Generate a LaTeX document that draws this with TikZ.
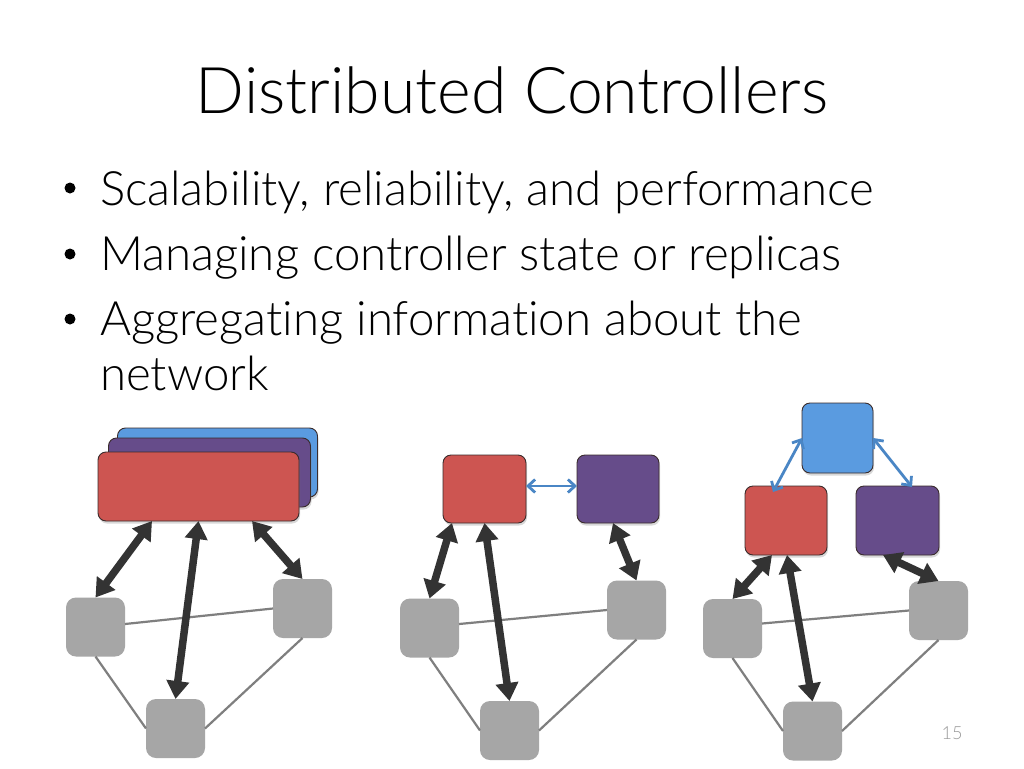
\documentclass[tikz,border=0pt]{standalone}
\usepackage{fontspec}
\IfFontExistsTF{Lato Light}{\setmainfont[Ligatures=NoCommon]{Lato Light}}{\setmainfont[Ligatures=NoCommon]{Lato}}
\usetikzlibrary{arrows.meta,shadows}
\definecolor{cred}{HTML}{CD5551}
\definecolor{cpurple}{HTML}{664C8A}
\definecolor{cblue}{HTML}{5A9BE0}
\definecolor{swgray}{HTML}{A6A6A6}
\definecolor{linkgray}{HTML}{7F7F7F}
\definecolor{adark}{HTML}{333333}
\definecolor{ablue}{HTML}{4A86C5}
\definecolor{edge}{HTML}{3A2C2C}
\definecolor{pgnum}{HTML}{999999}
\begin{document}
\begin{tikzpicture}[x=1pt,y=-1pt,
  ctrl/.style={draw=edge, line width=0.9pt, rounded corners=8pt, inner sep=0pt, outer sep=0pt,
    drop shadow={shadow xshift=1pt, shadow yshift=-2.5pt, opacity=0.3}},
  sw/.style={fill=swgray, rounded corners=10pt, minimum width=59pt, minimum height=59pt, inner sep=0pt, outer sep=0pt},
  link/.style={draw=linkgray, line width=2.2pt},
  bigarrow/.style={draw=adark, line width=7.5pt, {Triangle[length=18pt,width=22pt]}-{Triangle[length=18pt,width=22pt]}},
  smallarrow/.style={draw=ablue, line width=2.8pt, {Straight Barb[length=7pt,width=13pt]}-{Straight Barb[length=7pt,width=13pt]}},
  txt/.style={inner sep=0pt, outer sep=0pt, anchor=base west},
  bul/.style={circle, fill=black, inner sep=0pt, minimum size=11pt}
]
\useasboundingbox[fill=white] (0,0) rectangle (1024,768);

% Title and bullets
\node[inner sep=0pt, anchor=base] (title) at (512,113) {\fontsize{64.3}{70}\selectfont Distributed Controllers};
\node[bul] (d1) at (70,188) {};
\node[txt] (l1) at (100,205) {\fontsize{47.4}{52}\selectfont Scalability, reliability, and performance};
\node[bul] (d2) at (70,254) {};
\node[txt] (l2) at (100,270) {\fontsize{47.4}{52}\selectfont Managing controller state or replicas};
\node[bul] (d3) at (70,319) {};
\node[txt] (l3) at (100,335) {\fontsize{47.4}{52}\selectfont Aggregating information about the};
\node[txt] (l4) at (100,390) {\fontsize{47.4}{52}\selectfont network};

% ---------- Diagram 1 ----------
\node[ctrl, fill=cblue, minimum width=200pt, minimum height=69pt] (b1) at (217.5,462.5) {};
\node[ctrl, fill=cpurple, minimum width=202pt, minimum height=69pt] (p1) at (209.5,472.5) {};
\node[ctrl, fill=cred, minimum width=201pt, minimum height=69pt] (r1) at (198.5,486.5) {};
\node[sw] (g1a) at (95.5,627) {};
\node[sw] (g1b) at (302.5,608.5) {};
\node[sw] (g1c) at (175.5,728.5) {};
\draw[link] ([yshift=3pt]g1a.east) -- (g1b.west);
\draw[link] (g1a.south) -- (g1c.west);
\draw[link] (g1b.south) -- (g1c.east);
\draw[bigarrow] ([xshift=-46.5pt]r1.south) -- (g1a.north);
\draw[bigarrow] (r1.south) -- (g1c.north);
\draw[bigarrow] ([xshift=53.5pt]r1.south) -- (g1b.north);

% ---------- Diagram 2 ----------
\node[ctrl, fill=cred, minimum width=83pt, minimum height=68pt] (r2) at (484.5,489) {};
\node[ctrl, fill=cpurple, minimum width=82pt, minimum height=68pt] (p2) at (618,489) {};
\node[sw] (g2a) at (429.5,628) {};
\node[sw] (g2b) at (636.5,610) {};
\node[sw] (g2c) at (509.5,730.5) {};
\draw[link] ([yshift=4pt]g2a.east) -- (g2b.west);
\draw[link] (g2a.south) -- (g2c.west);
\draw[link] (g2b.south) -- (g2c.east);
\draw[smallarrow] ([yshift=3pt]r2.east) -- ([yshift=3pt]p2.west);
\draw[bigarrow] ([xshift=-32.5pt]r2.south) -- (g2a.north);
\draw[bigarrow] (r2.south) -- (g2c.north);
\draw[bigarrow] ([xshift=-5pt]p2.south) -- (g2b.north);

% ---------- Diagram 3 ----------
\node[ctrl, fill=cblue, minimum width=71pt, minimum height=70pt] (bl3) at (837.5,438) {};
\node[ctrl, fill=cred, minimum width=82pt, minimum height=69pt] (r3) at (786,520.5) {};
\node[ctrl, fill=cpurple, minimum width=83pt, minimum height=69pt] (p3) at (897.5,520.5) {};
\node[sw] (g3a) at (732.5,628.5) {};
\node[sw] (g3b) at (938.5,610.5) {};
\node[sw] (g3c) at (812.5,731) {};
\draw[link] ([yshift=5pt]g3a.east) -- (g3b.west);
\draw[link] (g3a.south) -- (g3c.west);
\draw[link] (g3b.south) -- (g3c.east);
\draw[smallarrow] (bl3.west) -- ([xshift=-13pt,yshift=-6pt]r3.north);
\draw[smallarrow] (bl3.east) -- ([xshift=14.5pt,yshift=-1pt]p3.north);
\draw[bigarrow] ([xshift=-14pt]r3.south) -- (g3a.north);
\draw[bigarrow] ([xshift=1pt]r3.south) -- (g3c.north);
\draw[bigarrow] ([xshift=-14.5pt]p3.south) -- (g3b.north);

\node[inner sep=0pt, anchor=base, text=pgnum] (pg) at (952,739) {\fontsize{18}{20}\selectfont 15};
\end{tikzpicture}
\end{document}
